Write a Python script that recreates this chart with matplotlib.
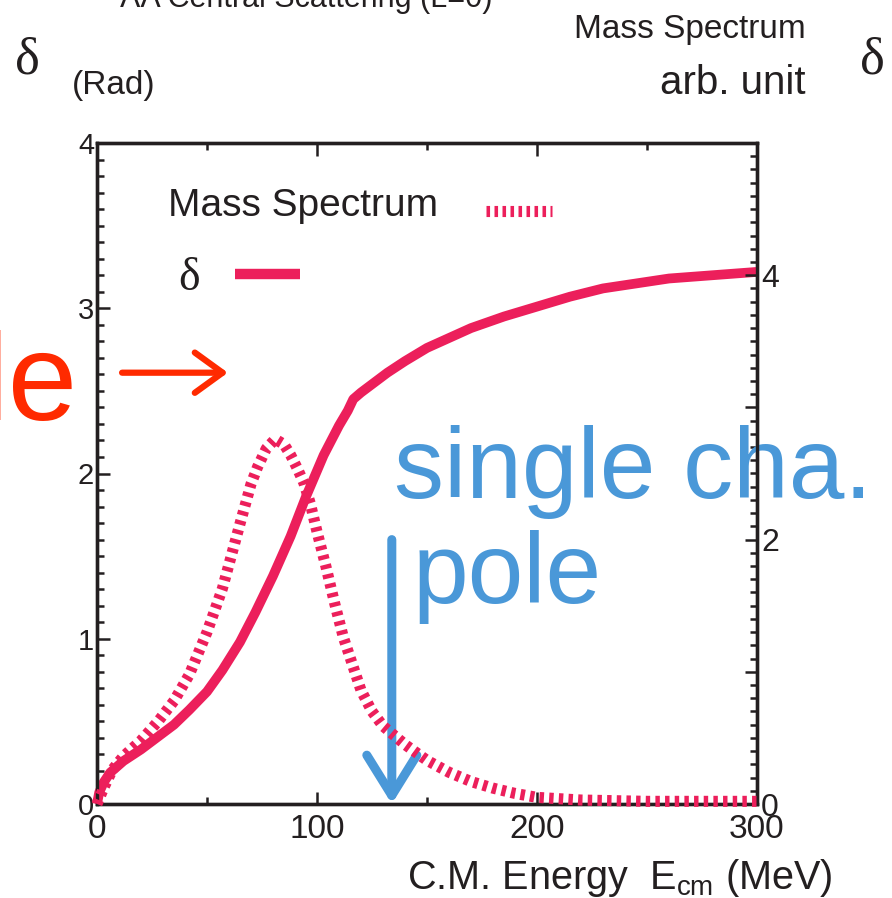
import matplotlib
matplotlib.use("Agg")
import matplotlib.pyplot as plt
from matplotlib.ticker import MultipleLocator, FuncFormatter

plt.rcParams['font.family'] = ['Liberation Sans', 'DejaVu Sans']
plt.rcParams['mathtext.fontset'] = 'custom'
plt.rcParams['mathtext.rm'] = 'Liberation Sans'
plt.rcParams['mathtext.it'] = 'Liberation Sans:italic'

# phase shift delta (rad) vs C.M. energy (MeV)
energy_phase = [0, 1, 3, 6, 12, 20, 27, 35, 42, 50, 57, 65, 72, 80, 88, 95,
                103, 110, 114, 116.5, 120, 125, 132, 140, 150, 160, 170, 185,
                200, 215, 230, 245, 260, 280, 300]
phase_shift = [0.00, 0.07, 0.13, 0.19, 0.26, 0.33, 0.40, 0.48, 0.57, 0.68,
               0.81, 0.98, 1.16, 1.38, 1.62, 1.86, 2.11, 2.29, 2.38, 2.45,
               2.49, 2.54, 2.61, 2.68, 2.76, 2.82, 2.88, 2.95, 3.01, 3.07,
               3.12, 3.15, 3.18, 3.20, 3.22]

# mass spectrum (arb. unit) vs C.M. energy (MeV)
energy_mass = [0, 3, 7, 12, 20, 28, 35, 42, 50, 57, 65, 70, 73, 77, 81, 85,
               88, 91, 94, 97, 100, 104, 108, 112, 116, 120, 125, 130, 135,
               140, 150, 160, 170, 180, 190, 200, 220, 250, 300]
mass_spectrum = [0.00, 0.12, 0.26, 0.36, 0.48, 0.63, 0.78, 0.98, 1.30, 1.63,
                 2.12, 2.42, 2.55, 2.69, 2.76, 2.72, 2.64, 2.54, 2.43, 2.27,
                 2.06, 1.80, 1.52, 1.26, 1.06, 0.86, 0.70, 0.59, 0.52, 0.45,
                 0.33, 0.24, 0.17, 0.12, 0.08, 0.05, 0.03, 0.02, 0.02]

x_ticks = [0, 100, 200, 300]
left_ticks = [0, 1, 2, 3, 4]
right_labels = [0, 2, 4]

pole_energy = 134
pole_arrow_top = 1.6

red = '#ec1f5b'
blue = '#4a98d8'
orange = '#ff2a00'
ink = '#231f20'

W, H = 892, 898


def px(x, y):
    return x / W, 1 - y / H


fig = plt.figure(figsize=(W / 100, H / 100), dpi=100)
ax = fig.add_axes([97 / W, 1 - 804 / H, 660 / W, 661 / H])
ax2 = ax.twinx()

ax.set_xlim(0, 300)
ax.set_ylim(0, 4)
ax2.set_ylim(0, 5)

ax.plot(energy_phase, phase_shift, color=red, lw=7, solid_capstyle='butt',
        clip_on=False, zorder=3)
ax2.plot(energy_mass, mass_spectrum, color=red, lw=8,
         linestyle=(0, (0.4, 0.47)), clip_on=False, zorder=3)

# axes frame and ticks
for a in (ax, ax2):
    for s in a.spines.values():
        s.set_linewidth(2.4)
        s.set_color(ink)

ax.set_xticks(x_ticks)
ax.xaxis.set_minor_locator(MultipleLocator(50))
ax.set_yticks(left_ticks)
ax.yaxis.set_minor_locator(MultipleLocator(0.1))
ax.tick_params(axis='both', which='both', direction='in', colors=ink,
               top=True, right=False)
ax.tick_params(axis='both', which='major', length=9, width=1.8)
ax.tick_params(axis='both', which='minor', length=5, width=1.8)
ax.tick_params(axis='x', labelsize=24, pad=7)
ax.tick_params(axis='y', labelsize=21, pad=2)

ax2.yaxis.set_major_locator(MultipleLocator(1))
ax2.yaxis.set_minor_locator(MultipleLocator(0.1))
ax2.yaxis.set_major_formatter(
    FuncFormatter(lambda v, p: f"{int(round(v))}" if int(round(v)) in right_labels else ""))
ax2.tick_params(axis='y', which='both', direction='in', colors=ink)
ax2.tick_params(axis='y', which='major', length=9, width=1.8, labelsize=23, pad=3)
ax2.tick_params(axis='y', which='minor', length=5, width=1.8)

# legend drawn by hand: label on the left, line sample on the right
ax.text(0.108, 0.905, 'Mass Spectrum', transform=ax.transAxes, fontsize=28,
        color=ink, va='center')
ax.plot([0.59, 0.69], [0.897, 0.897], transform=ax.transAxes, color=red,
        lw=8, linestyle=(0, (0.32, 0.4)))
ax.text(0.123, 0.795, 'δ', transform=ax.transAxes, fontsize=33, color=ink,
        va='center', family='Liberation Serif')
ax.plot([0.209, 0.307], [0.802, 0.802], transform=ax.transAxes, color=red,
        lw=7.5, solid_capstyle='butt')

# arrows
ax.annotate('', xy=(59.5, 2.61), xytext=(11.4, 2.61),
            arrowprops=dict(arrowstyle='->,head_length=20,head_width=14.5',
                            mutation_scale=1, lw=4.5, color=orange,
                            shrinkA=0, shrinkB=0))
ax.annotate('', xy=(pole_energy, 0), xytext=(pole_energy, pole_arrow_top),
            arrowprops=dict(arrowstyle='->,head_length=29,head_width=18',
                            mutation_scale=1, lw=6.5, color=blue,
                            shrinkA=0, shrinkB=0), zorder=4)

# blue annotation text sits under the right frame
ax2.text(*px(394, 498), 'single cha.', transform=fig.transFigure,
         fontsize=72, color=blue, clip_on=False, zorder=2)
ax2.text(*px(413, 603), 'pole', transform=fig.transFigure,
         fontsize=72, color=blue, clip_on=False, zorder=2)

# labels around the frame
fig.text(*px(-19, 420), 'le', fontsize=90, color=orange)
fig.text(*px(833, 889), r'C.M. Energy  E$_{\mathrm{cm}}$ (MeV)',
         fontsize=28.5, color=ink, ha='right')
fig.text(*px(806, 38), 'Mass Spectrum', fontsize=24, color=ink, ha='right')
fig.text(*px(806, 94), 'arb. unit', fontsize=29, color=ink, ha='right')
fig.text(*px(15, 74), 'δ', fontsize=38, color=ink, family='Liberation Serif')
fig.text(*px(72, 94), '(Rad)', fontsize=24, color=ink)
fig.text(*px(860, 74), 'δ', fontsize=38, color=ink, family='Liberation Serif')
fig.text(*px(120, 7), 'ΛΛ Central Scattering (L=0)', fontsize=22, color=ink)

fig.savefig('out.png', dpi=100)
